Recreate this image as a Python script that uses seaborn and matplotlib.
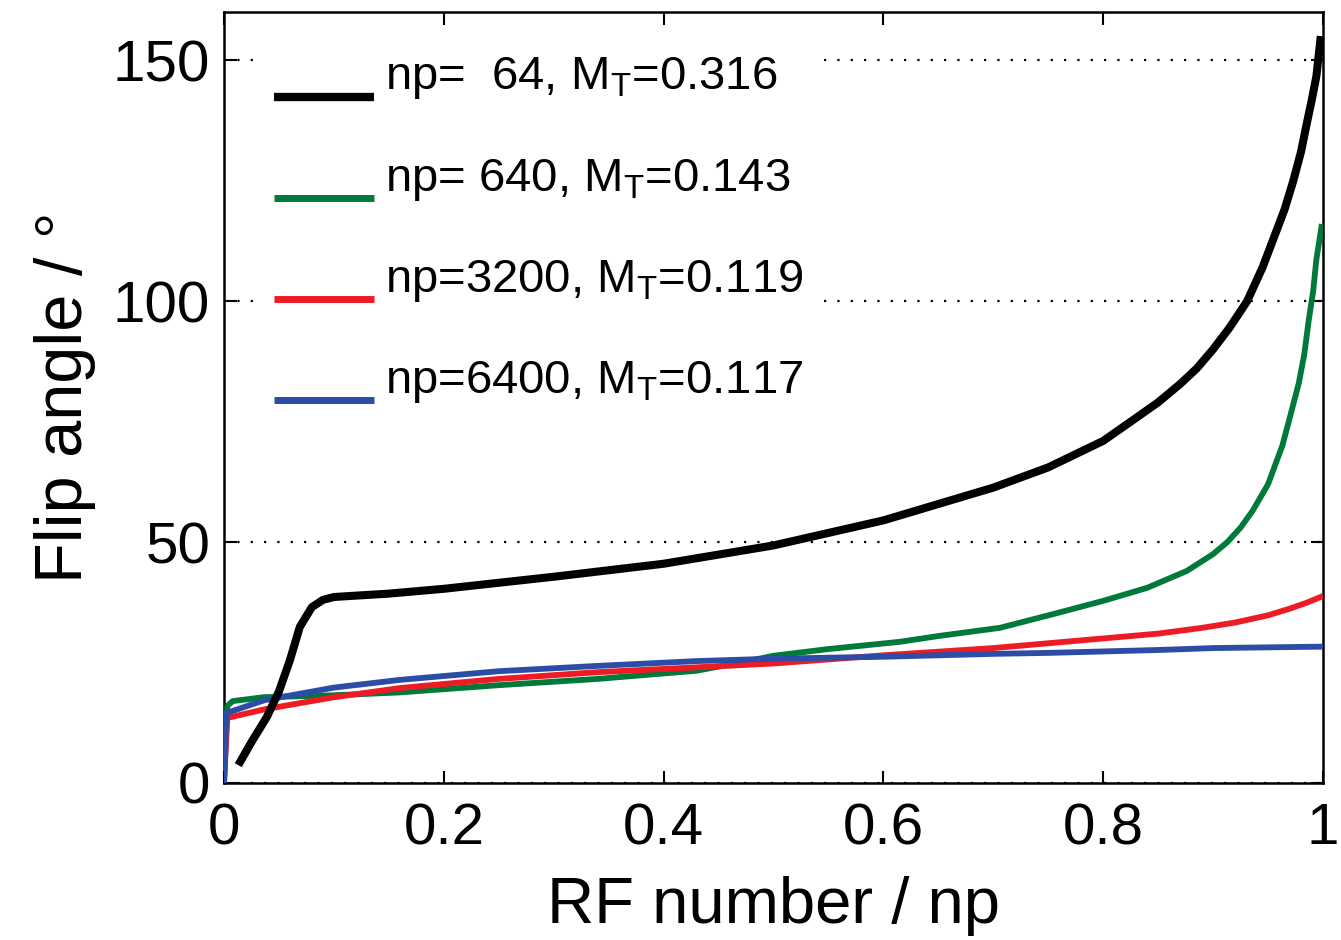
import matplotlib
matplotlib.use("Agg")
import matplotlib.pyplot as plt
import seaborn as sns
import pandas as pd
import numpy as np
from matplotlib.ticker import FixedLocator, FixedFormatter
from matplotlib.legend_handler import HandlerLine2D

# ---- data ----
x_np64 = [0.013, 0.025, 0.039, 0.05, 0.06, 0.069, 0.08, 0.09, 0.1, 0.15, 0.2, 0.3, 0.4,
          0.5, 0.6, 0.7, 0.75, 0.8, 0.827, 0.85, 0.87, 0.885, 0.9, 0.915, 0.931, 0.945,
          0.955, 0.965, 0.973, 0.98, 0.985, 0.99, 0.994, 0.998]
y_np64 = [3.7, 8.5, 13.7, 19.0, 25.5, 32.4, 36.5, 38.0, 38.6, 39.3, 40.3, 42.8, 45.5,
          49.3, 54.5, 61.3, 65.5, 71.0, 75.3, 79.0, 82.8, 86.0, 90.0, 94.5, 100.0, 107.0,
          113.0, 119.0, 125.0, 131.0, 136.6, 142.0, 146.7, 155.0]

x_np640 = [0.0, 0.003, 0.008, 0.036, 0.1, 0.16, 0.25, 0.34, 0.43, 0.47, 0.5, 0.55, 0.615,
           0.65, 0.706, 0.752, 0.8, 0.84, 0.876, 0.9, 0.913, 0.925, 0.936, 0.95, 0.963,
           0.97, 0.978, 0.983, 0.987, 0.991, 0.994, 0.997, 0.999]
y_np640 = [0.0, 16.0, 17.0, 17.8, 18.2, 18.8, 20.3, 21.6, 23.3, 25.0, 26.4, 27.8, 29.3,
           30.5, 32.2, 34.9, 37.8, 40.5, 44.0, 47.5, 50.0, 53.0, 56.5, 62.0, 70.0,
           76.0, 83.0, 89.0, 96.0, 102.0, 108.7, 113.0, 116.0]

x_np3200 = [0.0, 0.003, 0.037, 0.1, 0.16, 0.25, 0.34, 0.43, 0.5, 0.6, 0.7, 0.75, 0.8,
            0.85, 0.89, 0.92, 0.95, 0.97, 0.985, 1.0]
y_np3200 = [0.0, 13.5, 15.3, 17.8, 19.7, 21.6, 23.0, 24.0, 24.8, 26.5, 28.0, 29.0, 30.0,
            31.0, 32.2, 33.3, 34.8, 36.2, 37.4, 38.8]

x_np6400 = [0.0, 0.002, 0.037, 0.1, 0.16, 0.25, 0.34, 0.43, 0.5, 0.6, 0.7, 0.75, 0.85,
            0.9, 1.0]
y_np6400 = [0.0, 14.5, 17.2, 19.8, 21.4, 23.2, 24.3, 25.3, 25.8, 26.2, 26.8, 27.0, 27.6,
            28.0, 28.3]

labels = ["np=  64, M$_\\mathregular{T}$=0.316",
          "np= 640, M$_\\mathregular{T}$=0.143",
          "np=3200, M$_\\mathregular{T}$=0.119",
          "np=6400, M$_\\mathregular{T}$=0.117"]
colors = ["#000000", "#00793A", "#ED1C24", "#2B4DA5"]
widths = [5.8, 4.2, 4.2, 4.2]
legend_widths = [6.0, 5.0, 5.0, 5.0]

x_ticks = [0, 0.2, 0.4, 0.6, 0.8, 1.0]
x_ticklabels = ["0", "0.2", "0.4", "0.6", "0.8", "1"]
y_ticks = [0, 50, 100, 150]
y_ticklabels = ["0", "50", "100", "150"]

# ---- style ----
sns.set_theme(style="white")
plt.rcParams["font.family"] = ["Liberation Sans", "DejaVu Sans"]
plt.rcParams["mathtext.fontset"] = "custom"
plt.rcParams["mathtext.rm"] = "Liberation Sans"
plt.rcParams["text.color"] = "black"
plt.rcParams["axes.labelcolor"] = "black"


class LowLineHandler(HandlerLine2D):
    """Legend line drawn a little below the text centre (as in the reference)."""
    def create_artists(self, legend, orig_handle, xdescent, ydescent, width, height,
                       fontsize, trans):
        arts = super().create_artists(legend, orig_handle, xdescent, ydescent, width,
                                      height, fontsize, trans)
        for a in arts:
            yd = np.asarray(a.get_ydata(), dtype=float)
            a.set_ydata(yd - 0.5 * fontsize)
        return arts


fig = plt.figure(figsize=(13.41, 9.40), dpi=100)
ax = fig.add_axes([224 / 1341, 157 / 940, 1099 / 1341, 771 / 940])

series = [(x_np64, y_np64), (x_np640, y_np640), (x_np3200, y_np3200), (x_np6400, y_np6400)]
draw_order = [1, 2, 3, 0]
for i in draw_order:
    xs, ys = series[i]
    df = pd.DataFrame({"x": xs, "y": ys})
    sns.lineplot(data=df, x="x", y="y", ax=ax, color=colors[i], linewidth=widths[i],
                 label=labels[i], sort=False, estimator=None, zorder=3 + (i == 0),
                 solid_capstyle="butt")
h, l = ax.get_legend_handles_labels()
lab2h = dict(zip(l, h))

ax.set_xlim(0, 1)
ax.set_ylim(0, 160)
ax.xaxis.set_major_locator(FixedLocator(x_ticks))
ax.xaxis.set_major_formatter(FixedFormatter(x_ticklabels))
ax.yaxis.set_major_locator(FixedLocator(y_ticks))
ax.yaxis.set_major_formatter(FixedFormatter(y_ticklabels))

ax.yaxis.grid(True, linestyle=(0, (1, 5)), color="black", linewidth=1.6)
ax.xaxis.grid(False)
ax.set_axisbelow(True)

ax.tick_params(axis="both", which="major", direction="in", length=9, width=1.5,
               top=True, right=True, bottom=True, left=True, labelsize=42, color="black",
               labelcolor="black")
ax.tick_params(axis="x", pad=14)
ax.tick_params(axis="y", pad=10)
for s in ax.spines.values():
    s.set_visible(True)
    s.set_color("black")
    s.set_linewidth(1.8)

ax.set_xlabel("RF number / np", fontsize=47, color="black", labelpad=14)
ax.set_ylabel("Flip angle / °", fontsize=48, color="black", labelpad=12)

leg = ax.legend([lab2h[lb] for lb in labels], labels, loc="upper left",
                bbox_to_anchor=(0.033, 0.962), borderaxespad=0, fontsize=34,
                frameon=True, facecolor="white", edgecolor="none", framealpha=1,
                fancybox=False, handlelength=2.1, handletextpad=0.25, labelspacing=1.17,
                borderpad=0.3, handler_map={matplotlib.lines.Line2D: LowLineHandler()})
leg.set_zorder(5)
for t in leg.get_texts():
    t.set_color("black")
for lh, w in zip(leg.get_lines(), legend_widths):
    lh.set_linewidth(w)

fig.savefig("out.png", dpi=100, facecolor="white")
